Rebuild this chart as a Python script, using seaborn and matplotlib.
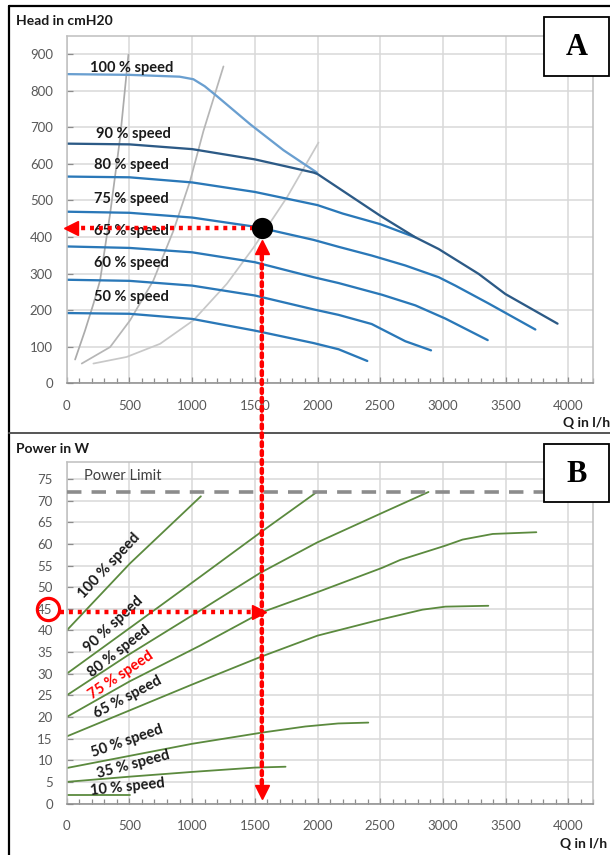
import matplotlib
matplotlib.use("Agg")
import numpy as np
import pandas as pd
import matplotlib.pyplot as plt
import seaborn as sns
from matplotlib.patches import Rectangle, ConnectionPatch
from matplotlib.lines import Line2D
from matplotlib.ticker import MultipleLocator

# ---------------- Head curves (Q in l/h, head in cmH2O) ----------------
head_q_100 = [0, 500, 900, 1010, 1100, 1197, 1463, 1729, 1995]
head_h_100 = [845, 843, 838, 831, 812, 785, 708, 637, 576]
head_q_90 = [0, 500, 1000, 1500, 1968, 2000, 2500, 2780, 2966, 3285, 3498, 3914]
head_h_90 = [655, 653, 640, 612, 576, 572, 458, 399, 367, 299, 244, 163]
head_q_80 = [0, 500, 1000, 1500, 2000, 2200, 2500, 2780]
head_h_80 = [565, 563, 549, 523, 487, 464, 435, 399]
head_q_75 = [0, 500, 1000, 1500, 1556, 1968, 2168, 2434, 2700, 2966, 3099, 3365, 3737]
head_h_75 = [469, 466, 453, 428, 424, 392, 373, 349, 322, 290, 267, 218, 147]
head_q_65 = [0, 500, 1000, 1500, 1968, 2168, 2514, 2780, 3019, 3357]
head_h_65 = [374, 370, 358, 331, 290, 274, 242, 213, 177, 118]
head_q_60 = [0, 500, 1000, 1500, 1968, 2168, 2432, 2700, 2905]
head_h_60 = [283, 280, 267, 240, 202, 187, 162, 115, 90]
head_q_50 = [0, 500, 1000, 1500, 1968, 2168, 2397]
head_h_50 = [192, 190, 176, 144, 110, 93, 61]

# System (installation) curves
sys_q_1 = [67, 146, 213, 266, 346, 426, 492]
sys_h_1 = [65, 144, 217, 281, 463, 671, 898]
sys_q_2 = [120, 346, 505, 691, 851, 984, 1090, 1250]
sys_h_2 = [54, 99, 172, 281, 417, 553, 689, 866]
sys_q_3 = [213, 478, 745, 1010, 1277, 1490, 1756, 2008]
sys_h_3 = [54, 72, 108, 172, 272, 371, 508, 658]

# Labels of the head curves: text, Q centre, head
head_labels = ["100 % speed", "90 % speed", "80 % speed", "75 % speed",
               "65 % speed", "60 % speed", "50 % speed"]
head_label_q = [515, 533, 519, 519, 519, 519, 519]
head_label_h = [861, 682, 596, 503, 417, 328, 237]

# ---------------- Power curves (Q in l/h, power in W) ----------------
pow_q_100 = [0, 505, 1070]
pow_p_100 = [40, 55.5, 71]
pow_q_90 = [0, 500, 1064, 1543, 1995]
pow_p_90 = [30, 40.5, 52.4, 62.6, 72]
pow_q_80 = [0, 500, 1064, 1543, 1995, 2518, 2885]
pow_p_80 = [25, 34.5, 44.6, 53.3, 60.3, 67.2, 72]
pow_q_75 = [0, 500, 1064, 1556, 1995, 2518, 2660, 3020, 3157, 3397, 3745]
pow_p_75 = [20, 28.2, 36.5, 44.2, 48.8, 54.5, 56.3, 59.6, 61.0, 62.3, 62.7]
pow_q_65 = [0, 500, 1000, 1556, 2000, 2500, 2837, 3020, 3362]
pow_p_65 = [15.5, 21.5, 27.5, 34, 38.8, 42.5, 44.8, 45.5, 45.7]
pow_q_50 = [0, 500, 1000, 1560, 1903, 2165, 2405]
pow_p_50 = [8.2, 11, 13.8, 16.4, 17.8, 18.5, 18.7]
pow_q_35 = [0, 500, 1000, 1500, 1745]
pow_p_35 = [5, 6.2, 7.3, 8.3, 8.5]
pow_q_10 = [0, 505]
pow_p_10 = [2, 2]

power_limit = 72

# Labels of the power curves: text, Q centre, power, rotation
pow_labels = ["100 % speed", "90 % speed", "80 % speed", "75 % speed",
              "65 % speed", "50 % speed", "35 % speed", "10 % speed"]
pow_label_q = [338, 378, 418, 435, 484, 484, 532, 484]
pow_label_p = [55, 41.3, 35.1, 29.6, 24.5, 14.5, 9, 3.9]
pow_label_rot = [47, 43, 38, 34, 28, 19, 15, 6]

# Operating point
op_q = 1556
op_head = 424
op_power = 44.3
read_power_tick = 45

# ---------------- Styling ----------------
sns.set_theme(style="white")
plt.rcParams["font.family"] = ["Lato", "DejaVu Sans"]

W, H = 610, 855
fig = plt.figure(figsize=(W / 100, H / 100), dpi=100)
fig.patch.set_facecolor("white")


def fx(px):
    return px / W


def fy(py):
    return 1 - py / H


ax1 = fig.add_axes([fx(66.7), fy(383.3), fx(593.4) - fx(66.7), fy(35.7) - fy(383.3)])
ax2 = fig.add_axes([fx(66.7), fy(803.5), fx(593.4) - fx(66.7), fy(461.7) - fy(803.5)])

grid_c = "#d9d9d9"
tick_c = "#595959"


def style_axes(ax, ymax, ystep):
    ax.set_xlim(0, 4200)
    ax.set_ylim(0, ymax)
    ax.xaxis.set_major_locator(MultipleLocator(500))
    ax.xaxis.set_minor_locator(MultipleLocator(100))
    ax.yaxis.set_major_locator(MultipleLocator(ystep))
    ax.grid(True, which="major", color=grid_c, lw=1.1, zorder=0)
    ax.set_axisbelow(True)
    for side in ["top", "right", "left"]:
        ax.spines[side].set_color("#bfbfbf")
        ax.spines[side].set_linewidth(1.1)
    ax.spines["bottom"].set_color("#8c8c8c")
    ax.spines["bottom"].set_linewidth(1.1)
    ax.tick_params(axis="x", which="both", direction="in", color="#8c8c8c",
                   length=4, width=0.9, labelsize=9.5, labelcolor=tick_c, pad=12)
    ax.tick_params(axis="x", which="minor", length=3.5)
    ax.tick_params(axis="y", which="major", direction="in", color="#8c8c8c",
                   length=4, width=0.9, labelsize=9.5, labelcolor=tick_c, pad=10)
    ax.tick_params(axis="x", which="both", bottom=True, top=False)
    ax.tick_params(axis="y", left=True, right=False)
    ax.set_xlabel("")
    ax.set_ylabel("")


def long_frame(qs, vs, names, yname):
    rows = []
    for q, v, n in zip(qs, vs, names):
        rows.append(pd.DataFrame({"Q": q, yname: v, "curve": n}))
    return pd.concat(rows, ignore_index=True)


# ---------------- Panel A: head ----------------
sys_df = long_frame([sys_q_1, sys_q_2, sys_q_3], [sys_h_1, sys_h_2, sys_h_3],
                    ["s1", "s2", "s3"], "H")
sns.lineplot(data=sys_df, x="Q", y="H", hue="curve", sort=False, estimator=None,
             palette={"s1": "#ababab", "s2": "#b6b6b6", "s3": "#c8c8c8"},
             linewidth=1.25, legend=False, ax=ax1)

head_df = long_frame(
    [head_q_100, head_q_80, head_q_75, head_q_65, head_q_60, head_q_50, head_q_90],
    [head_h_100, head_h_80, head_h_75, head_h_65, head_h_60, head_h_50, head_h_90],
    ["100", "80", "75", "65", "60", "50", "90"], "H")
head_pal = {"100": "#6a9fd0", "90": "#2c5a86", "80": "#2a78b8", "75": "#2a78b8",
            "65": "#2a78b8", "60": "#2a78b8", "50": "#2a78b8"}
sns.lineplot(data=head_df, x="Q", y="H", hue="curve", sort=False, estimator=None,
             hue_order=["100", "80", "75", "65", "60", "50", "90"],
             palette=head_pal, linewidth=1.65, legend=False, ax=ax1)

for t, q, h in zip(head_labels, head_label_q, head_label_h):
    ax1.text(q, h, t, ha="center", va="center", fontsize=10.5,
             fontweight="bold", color="#1a1a1a", zorder=5)

style_axes(ax1, 950, 100)

# operating point and reading arrow to the head axis
red = "#ff0000"
dots = (0, (0.9, 1.1))
ax1.plot([op_q - 60, 60], [op_head, op_head], color=red, lw=3.2, ls=dots,
         zorder=6)
ax1.plot([35], [op_head], marker="<", ms=10, color=red, mec=red, lw=0,
         zorder=7, clip_on=False)
sns.scatterplot(x=[op_q], y=[op_head], s=200, color="black", edgecolor="black",
                zorder=8, ax=ax1)
ax1.plot([op_q], [372], marker="^", ms=10, color=red, mec=red, lw=0, zorder=7)

# ---------------- Panel B: power ----------------
pow_df = long_frame(
    [pow_q_100, pow_q_90, pow_q_80, pow_q_75, pow_q_65, pow_q_50, pow_q_35, pow_q_10],
    [pow_p_100, pow_p_90, pow_p_80, pow_p_75, pow_p_65, pow_p_50, pow_p_35, pow_p_10],
    ["100", "90", "80", "75", "65", "50", "35", "10"], "P")
sns.lineplot(data=pow_df, x="Q", y="P", hue="curve", sort=False, estimator=None,
             palette={k: "#5b8a3e" for k in pow_df["curve"].unique()},
             linewidth=1.3, legend=False, ax=ax2)

ax2.axhline(power_limit, color="#8c8c8c", lw=2.6, ls=(0, (4, 2.8)), zorder=3)
ax2.text(140, 75.6, "Power Limit", ha="left", va="center", fontsize=10.5,
         color="#404040")

for t, q, p, r in zip(pow_labels, pow_label_q, pow_label_p, pow_label_rot):
    ax2.text(q, p, t, ha="center", va="center", rotation=r, rotation_mode="anchor",
             fontsize=10.5, fontweight="bold",
             color=red if t.startswith("75") else "#1a1a1a", zorder=5)

style_axes(ax2, 79, 5)

ax2.plot([-55, op_q - 70], [op_power, op_power], color=red, lw=3.2, ls=dots,
         zorder=6, clip_on=False)
ax2.plot([op_q - 25], [op_power], marker=">", ms=10, color=red, mec=red, lw=0,
         zorder=7)
ax2.plot([op_q], [2.6], marker="v", ms=10, color=red, mec=red, lw=0, zorder=7)
ax2.plot([-152], [read_power_tick], marker="o", ms=16, mfc="none", mec=red,
         mew=2.3, lw=0, clip_on=False, zorder=7)

# vertical reading line spanning both panels
con = ConnectionPatch(xyA=(op_q, 4.5), coordsA="data", axesA=ax2,
                      xyB=(op_q, 355), coordsB="data", axesB=ax1,
                      color=red, lw=3.2, ls=dots, zorder=6)
fig.add_artist(con)

# ---------------- Titles, axis names, panel tags, frames ----------------
fig.text(fx(16), fy(20.7), "Head in cmH20", ha="left", va="center",
         fontsize=10, fontweight="bold", color="#1a1a1a")
fig.text(fx(16), fy(449), "Power in W", ha="left", va="center",
         fontsize=10, fontweight="bold", color="#1a1a1a")
fig.text(fx(563), fy(423), "Q in l/h", ha="left", va="center",
         fontsize=10, fontweight="bold", color="#1a1a1a")
fig.text(fx(560), fy(844), "Q in l/h", ha="left", va="center",
         fontsize=10, fontweight="bold", color="#1a1a1a")

for (x0, y0, x1, y1, tag) in [(544, 17, 609, 76, "A"), (544, 444, 609, 502, "B")]:
    fig.add_artist(Rectangle((fx(x0), fy(y1)), fx(x1) - fx(x0), fy(y0) - fy(y1),
                             transform=fig.transFigure, facecolor="white",
                             edgecolor="black", lw=1.3, zorder=20))
    fig.text(fx((x0 + x1) / 2), fy((y0 + y1) / 2 + 1), tag, ha="center", va="center",
             fontsize=22, fontweight="bold", family="Liberation Serif",
             color="black", zorder=21)

fig.add_artist(Line2D([fx(9), fx(9)], [fy(6), fy(860)], transform=fig.transFigure,
                      color="black", lw=1.6))
fig.add_artist(Line2D([fx(9), fx(615)], [fy(6), fy(6)], transform=fig.transFigure,
                      color="black", lw=1.6))
fig.add_artist(Line2D([fx(9), fx(615)], [fy(433), fy(433)], transform=fig.transFigure,
                      color="#555555", lw=1.4))

fig.savefig("out.png", dpi=100, facecolor="white")
